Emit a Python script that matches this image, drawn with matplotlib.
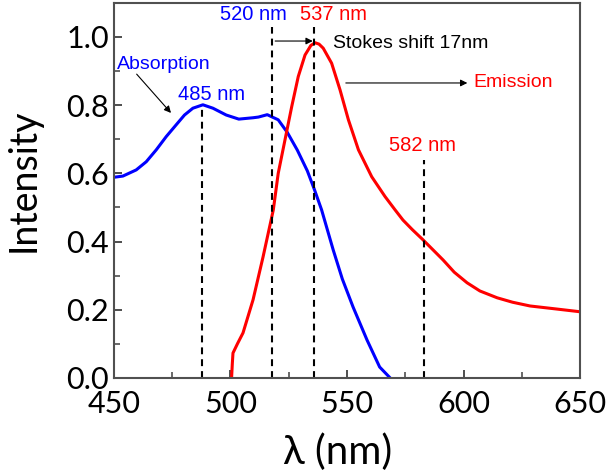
import matplotlib
matplotlib.use("Agg")
import matplotlib.pyplot as plt
from matplotlib.ticker import MultipleLocator, FormatStrFormatter

# absorption spectrum (blue)
abs_wl = [449.6, 453.9, 459.6, 463.9, 468.2, 472.5, 476.7, 480.3, 483.9, 488.2,
          492.5, 498.2, 503.6, 509.7, 512, 515.8, 520.5, 524.4, 528.7, 533,
          536.1, 539.1, 544.1, 548, 552.6, 558.6, 564, 568.5]
abs_int = [0.588, 0.592, 0.610, 0.634, 0.669, 0.708, 0.742, 0.771, 0.791, 0.801,
           0.791, 0.771, 0.759, 0.763, 0.765, 0.772, 0.757, 0.720, 0.668, 0.607,
           0.551, 0.493, 0.375, 0.29, 0.208, 0.111, 0.032, 0.0]

# emission spectrum (red)
em_wl = [500.5, 500.8, 501.1, 503, 505.4, 509.7, 514, 518.4, 520.5, 523.4,
         526.3, 529.1, 532, 534.5, 536.3, 538, 539.8, 543.4, 547, 550.6, 554.9,
         560.6, 566.3, 570.6, 574, 578, 582.6, 591.2, 596, 601.5, 607, 614.4,
         621, 628.5, 640, 650]
em_int = [0.0, 0.04, 0.073, 0.10, 0.132, 0.229, 0.355, 0.493, 0.60, 0.698,
          0.796, 0.884, 0.947, 0.975, 0.983, 0.979, 0.967, 0.923, 0.845, 0.757,
          0.669, 0.590, 0.532, 0.493, 0.463, 0.435, 0.405, 0.346, 0.31, 0.279,
          0.255, 0.235, 0.222, 0.211, 0.202, 0.194]

# dashed marker lines: position, top
mark_x = [488, 518, 536, 583]
mark_top = [0.80, 1.03, 1.03, 0.64]

ANN = "Liberation Sans"
TICK = "Lato"

fig = plt.figure(figsize=(6.12, 4.73), dpi=100)
ax = fig.add_axes([0.186, 0.201, 0.762, 0.793])

ax.plot(abs_wl, abs_int, color="#0000ff", lw=2.2)
ax.plot(em_wl, em_int, color="#ff0000", lw=2.2)

for x, top in zip(mark_x, mark_top):
    ax.plot([x, x], [0, top], color="black", lw=1.5, ls=(0, (3.3, 2.4)))

ax.set_xlim(450, 650)
ax.set_ylim(0, 1.1)
ax.xaxis.set_major_locator(MultipleLocator(50))
ax.xaxis.set_minor_locator(MultipleLocator(25))
ax.yaxis.set_major_locator(MultipleLocator(0.2))
ax.yaxis.set_minor_locator(MultipleLocator(0.1))
ax.yaxis.set_major_formatter(FormatStrFormatter("%.1f"))
ax.tick_params(which="both", direction="in", top=False, right=False,
               color="#404040", labelsize=22)
ax.tick_params(which="major", length=6, width=1.3)
ax.tick_params(axis="x", which="major", pad=9)
ax.tick_params(which="minor", length=4, width=1.1)
for lab in ax.get_xticklabels() + ax.get_yticklabels():
    lab.set_family(TICK)
for s in ax.spines.values():
    s.set_color("#505050")
    s.set_linewidth(1.5)

fig.text(338 / 612, 1 - 452 / 473, "λ (nm)", fontsize=29, family=TICK,
         ha="center", va="center")
fig.text(24 / 612, 1 - 180 / 473, "Intensity", fontsize=27, family=TICK,
         ha="center", va="center", rotation=90)

# annotations
ax.text(510, 1.065, "520 nm", color="#0000ff", fontsize=14.5, family=ANN,
        ha="center", va="center")
ax.text(544, 1.065, "537 nm", color="#ff0000", fontsize=14.5, family=ANN,
        ha="center", va="center")
ax.text(492, 0.83, "485 nm", color="#0000ff", fontsize=14.5, family=ANN,
        ha="center", va="center")
ax.text(471.5, 0.92, "Absorption", color="#0000ff", fontsize=14, family=ANN,
        ha="center", va="center")
ax.text(582.5, 0.683, "582 nm", color="#ff0000", fontsize=14.5, family=ANN,
        ha="center", va="center")
ax.text(544, 0.982, "Stokes shift 17nm", color="black", fontsize=14,
        family=ANN, ha="left", va="center")
ax.text(604, 0.865, "Emission", color="#ff0000", fontsize=14, family=ANN,
        ha="left", va="center")

arrow = dict(arrowstyle="-|>", color="black", lw=0.8, mutation_scale=10)
ax.annotate("", xy=(475.3, 0.771), xytext=(459, 0.897), arrowprops=arrow)
ax.annotate("", xy=(536.5, 0.988), xytext=(518, 0.988), arrowprops=arrow)
ax.annotate("", xy=(602.8, 0.865), xytext=(548.3, 0.865), arrowprops=arrow)

fig.savefig("out.png", dpi=100)
